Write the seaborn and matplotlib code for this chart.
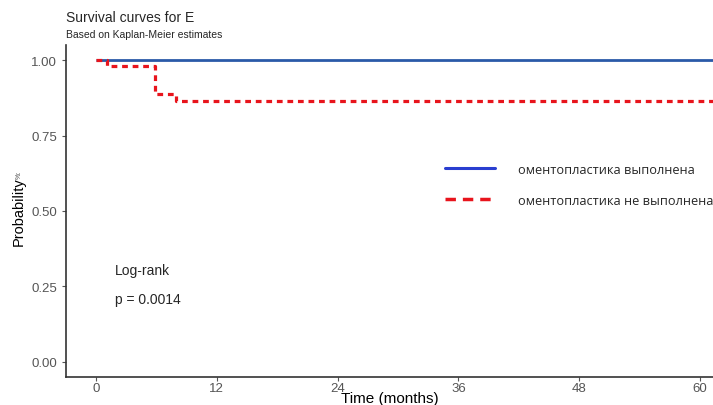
import pandas as pd
import matplotlib.pyplot as plt
import seaborn as sns
from matplotlib.lines import Line2D

# Kaplan-Meier step values
time_done = [0, 61.5]
surv_done = [1.0, 1.0]
time_not_done = [0, 1.05, 5.9, 7.95, 61.5]
surv_not_done = [1.0, 0.979, 0.889, 0.864, 0.864]

group_names = ['оментопластика выполнена', 'оментопластика не выполнена']
x_ticks = [0, 12, 24, 36, 48, 60]
y_ticks = [0.0, 0.25, 0.50, 0.75, 1.00]
title = 'Survival curves for E'
subtitle = 'Based on Kaplan-Meier estimates'
logrank_label = 'Log-rank'
p_label = 'p = 0.0014'

df = pd.concat([
    pd.DataFrame({'time': time_done, 'surv': surv_done, 'group': group_names[0]}),
    pd.DataFrame({'time': time_not_done, 'surv': surv_not_done, 'group': group_names[1]}),
], ignore_index=True)

sns.set_theme(style='white')
plt.rcParams['font.family'] = ['Liberation Sans', 'DejaVu Sans']

blue = '#2a5aa8'
red = '#e8141c'

fig = plt.figure(figsize=(7.13, 4.06), dpi=100)
ax = fig.add_axes([66 / 713, 1 - 378 / 406, 1 - 66 / 713, (378 - 46) / 406])

sns.lineplot(
    data=df, x='time', y='surv', hue='group', style='group',
    palette={group_names[0]: blue, group_names[1]: red},
    dashes={group_names[0]: (1, 0), group_names[1]: (1.8, 1.5)},
    drawstyle='steps-post', estimator=None, legend=False, ax=ax,
)
for line, lw in zip(ax.lines, [2.0, 2.3]):
    line.set_linewidth(lw)

ax.set_xlim(-2.98, 61.3)
ax.set_ylim(-0.05, 1.05)
ax.set_xticks(x_ticks)
ax.set_yticks(y_ticks)
ax.set_yticklabels([f'{v:.2f}' for v in y_ticks])
ax.tick_params(axis='both', colors='#555555', labelsize=9.5, length=3, width=0.8,
               direction='out', bottom=True, left=True)
ax.tick_params(axis='x', pad=0.5)
for side in ['top', 'right']:
    ax.spines[side].set_visible(False)
for side in ['left', 'bottom']:
    ax.spines[side].set_color('#333333')
    ax.spines[side].set_linewidth(1.2)

ax.set_xlabel('Time (months)', fontsize=11, color='black', labelpad=-2)
ax.set_ylabel('Probability', fontsize=10.5, color='black', labelpad=4)
ax.text(-0.072, 0.60, '%:', transform=ax.transAxes, rotation=90, fontsize=5,
        color='#444444', ha='center', va='bottom')

fig.text(66 / 713, 1 - 18 / 406, title, fontsize=10, ha='left', va='center')
fig.text(66 / 713, 1 - 35 / 406, subtitle, fontsize=7.5, ha='left', va='center')

ax.text(1.9, 0.305, logrank_label, fontsize=10, va='center')
ax.text(1.9, 0.209, p_label, fontsize=10, va='center')

handles = [
    Line2D([], [], color='#2a3ed0', lw=2.2),
    Line2D([], [], color=red, lw=2.5, dashes=(3, 2)),
]
ax.legend(handles, group_names, loc='upper left', bbox_to_anchor=(0.568, 0.68),
          frameon=False, handlelength=3.9, handletextpad=1.8, labelspacing=1.4,
          prop={'family': 'Open Sans', 'size': 9.2})

fig.savefig('out.png', dpi=100)
